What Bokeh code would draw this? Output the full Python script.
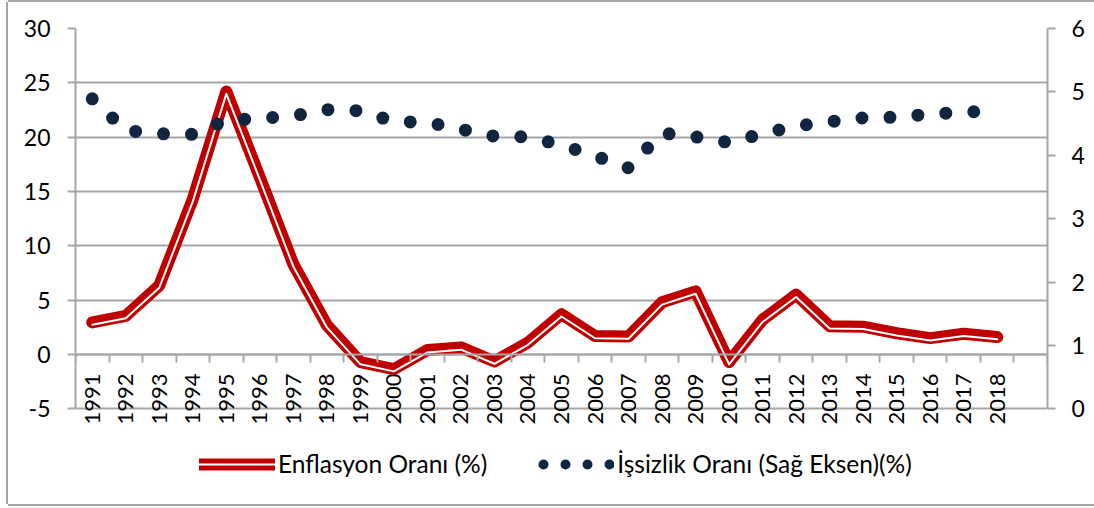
from math import pi
from bokeh.plotting import figure
from bokeh.models import (Range1d, LinearAxis, FixedTicker, Legend, LegendItem,
                          ColumnDataSource, CDSView, IndexFilter)
from bokeh.core.properties import value
from bokeh.embed import file_html
from bokeh.resources import INLINE

# ---------------- data ----------------
years = ["1991", "1992", "1993", "1994", "1995", "1996", "1997", "1998", "1999",
         "2000", "2001", "2002", "2003", "2004", "2005", "2006", "2007", "2008",
         "2009", "2010", "2011", "2012", "2013", "2014", "2015", "2016", "2017",
         "2018"]
inflation = [2.95, 3.55, 6.35, 14.3, 24.2, 16.3, 8.3, 2.7, -0.7, -1.35, 0.4, 0.65,
             -0.65, 1.1, 3.7, 1.7, 1.65, 4.8, 5.8, -0.7, 3.2, 5.5, 2.6, 2.55, 1.95,
             1.5, 1.9, 1.6]
unemployment = [4.89, 4.39, 4.34, 4.33, 4.55, 4.58, 4.62, 4.72, 4.70, 4.53, 4.52,
                4.41, 4.30, 4.29, 4.16, 3.99, 3.80, 4.35, 4.29, 4.20, 4.34, 4.46,
                4.53, 4.59, 4.60, 4.65, 4.68, 4.70]
left_ticks = [-5, 0, 5, 10, 15, 20, 25, 30]
left_tick_labels = ["-5", "0", "5", "10", "15", "20", "25", "30"]
right_ticks = [0, 1, 2, 3, 4, 5, 6]
right_tick_labels = ["0", "1", "2", "3", "4", "5", "6"]
n_slots = len(years) + 1  # one empty category slot at the end, as in the original
label_infl = "Enflasyon Oranı (%)"
label_unemp = "İşsizlik Oranı (Sağ Eksen)(%)"

# ---------------- style / layout ----------------
RED = "#C00000"
NAVY = "#10253F"
GRID = "#a6a6a6"
FONT = "Lato"
FS_TICK = "23px"
FS_YEAR = "22px"
FS_LEG = "24.5px"
W, H = 1086, 502
MB_LEFT, MB_RIGHT, MB_TOP, MB_BOTTOM = 67, 47, 26, 12
Y_LOW_PX = 406.25          # pixel row (in the figure) of the lowest gridline
shift_px = 2.3

top_px = MB_TOP
bottom_px = H - MB_BOTTOM
ppu_left = (Y_LOW_PX - top_px) / (left_ticks[-1] - left_ticks[0])
ppu_right = (Y_LOW_PX - top_px) / (right_ticks[-1] - right_ticks[0])
y_start = left_ticks[0] - (bottom_px - Y_LOW_PX) / ppu_left
r_start = right_ticks[0] - (bottom_px - Y_LOW_PX) / ppu_right
s = shift_px / ppu_left

xpos = [i + 0.5 for i in range(len(years))]
src = ColumnDataSource(dict(x=xpos, infl=inflation, unemp=unemployment, year=years))

p = figure(width=W, height=H, output_backend="svg", toolbar_location=None,
           x_range=Range1d(0, n_slots), y_range=Range1d(y_start, left_ticks[-1]),
           x_axis_location=None, y_axis_location="left",
           min_border_left=MB_LEFT, min_border_right=MB_RIGHT, min_border_top=MB_TOP,
           min_border_bottom=MB_BOTTOM, background_fill_color="white",
           border_fill_color="white", outline_line_color=None)
# chart-area border (left, top, bottom; the right side lies outside the view)
p.styles = {"margin-left": "8px", "margin-top": "2px",
            "box-shadow": "-2px 0 0 0 #a6a6a6, 0 2px 0 0 #a6a6a6, 0 -2px 0 0 #a6a6a6"}

p.extra_y_ranges = {
    "right": Range1d(r_start, right_ticks[-1]),
    "shift": Range1d(y_start + s, left_ticks[-1] + s),
}

# grid
p.xgrid.visible = False
p.ygrid.ticker = FixedTicker(ticks=left_ticks)
p.ygrid.grid_line_color = GRID
p.ygrid.grid_line_width = 2

# left axis
ya = p.yaxis[0]
ya.ticker = FixedTicker(ticks=left_ticks)
ya.bounds = (left_ticks[0], left_ticks[-1])
ya.major_label_overrides = {t: l for t, l in zip(left_ticks, left_tick_labels)}
ya.major_tick_in = 0
ya.major_tick_out = 8
ya.minor_tick_line_color = None
ya.axis_line_color = GRID
ya.axis_line_width = 2
ya.major_tick_line_color = GRID
ya.major_tick_line_width = 2
ya.major_label_standoff = 17
ya.major_label_text_font = FONT
ya.major_label_text_font_size = FS_TICK
ya.major_label_text_color = "black"

# right axis
ra = LinearAxis(y_range_name="right", ticker=FixedTicker(ticks=right_ticks),
                bounds=(right_ticks[0], right_ticks[-1]),
                major_label_overrides={t: l for t, l in zip(right_ticks, right_tick_labels)},
                major_tick_in=0, major_tick_out=8, minor_tick_line_color=None,
                axis_line_color=GRID, axis_line_width=2, major_tick_line_color=GRID,
                major_tick_line_width=2, major_label_standoff=16,
                major_label_text_font=FONT, major_label_text_font_size=FS_TICK,
                major_label_text_color="black")
p.add_layout(ra, "right")

# x axis: tick marks at category boundaries, drawn on the 0 line
xt = LinearAxis(ticker=FixedTicker(ticks=list(range(n_slots + 1))),
                major_label_overrides={i: "" for i in range(n_slots + 1)},
                major_label_text_font_size="0px",
                fixed_location=0, major_tick_in=0, major_tick_out=8,
                minor_tick_line_color=None, axis_line_color=GRID, axis_line_width=2,
                major_tick_line_color=GRID, major_tick_line_width=2,
                major_label_standoff=0)
p.add_layout(xt, "below")

# year labels under the 0 line, one per category
p.text(x="x", y=0, text="year", source=src, angle=pi / 2, text_align="right",
       text_baseline="middle", y_offset=19, text_font=value(FONT),
       text_font_size=FS_YEAR, text_color="black")

# series
r_red = p.line("x", "infl", source=src, line_color=RED, line_width=12,
               line_join="round", line_cap="round")
r_white = p.line("x", "infl", source=src, y_range_name="shift", line_color="white",
                 line_width=2, line_join="round", line_cap="round")
r_dots = p.line("x", "unemp", source=src, y_range_name="right", line_color=NAVY,
                line_width=13, line_dash="0 28", line_cap="round", line_join="round")
# legend sample for the dotted series: a one-point view of the same data, which
# draws nothing in the plot but lets the legend draw its dotted sample
r_dots_leg = p.line("x", "unemp", source=src, view=CDSView(filter=IndexFilter([0])),
                    y_range_name="right", line_color=NAVY, line_width=10,
                    line_dash="0 22", line_dash_offset=17, line_cap="round")

legend = Legend(items=[LegendItem(label=label_infl, renderers=[r_red, r_white]),
                       LegendItem(label=label_unemp, renderers=[r_dots_leg])],
                location=(124, 14), orientation="horizontal", glyph_width=76,
                glyph_height=20, label_standoff=3, spacing=51, padding=0, margin=0,
                border_line_color=None, background_fill_alpha=0,
                label_text_font=FONT, label_text_font_size=FS_LEG,
                label_text_color="black")
p.add_layout(legend, "center")

open("out.html", "w").write(file_html(p, INLINE))
